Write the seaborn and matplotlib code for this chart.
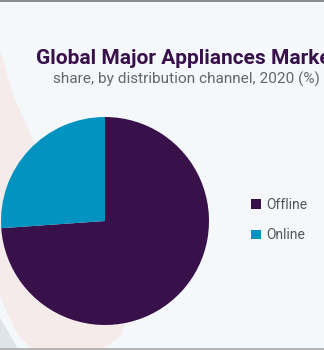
import matplotlib
matplotlib.use("Agg")
import matplotlib.pyplot as plt
from matplotlib.patches import Polygon, Rectangle
import seaborn as sns

# Distribution channel shares, 2020 (%)
channels = ["Offline", "Online"]
shares = [73.9, 26.1]
colors = ["#38104a", "#0393c0"]

title = "Global Major Appliances Market"
subtitle = "share, by distribution channel, 2020 (%)"

sns.set_theme(style="white")
plt.rcParams["font.family"] = ["Roboto", "DejaVu Sans"]

W, H = 324, 350
fig = plt.figure(figsize=(W / 100, H / 100), dpi=100)
fig.patch.set_facecolor("#f4f8fb")


def px(x, y):
    """Pixel position (origin top-left) to figure fraction."""
    return (x / W, 1 - y / H)


# Decorative background shapes
pink = [(0, 50), (15, 100), (35, 143), (60, 200), (90, 258), (118, 298),
        (126, 318), (122, 334), (108, 346), (95, 352), (35, 352), (18, 335),
        (7, 312), (0, 296)]
fig.patches.append(Polygon([px(*p) for p in pink], closed=True,
                           transform=fig.transFigure, facecolor="#f5ebea",
                           edgecolor="none", zorder=-5))
grey = [(0, 318), (6, 328), (11, 337), (16, 345), (19, 352), (0, 352)]
fig.patches.append(Polygon([px(*p) for p in grey], closed=True,
                           transform=fig.transFigure, facecolor="#dfe3ea",
                           edgecolor="none", zorder=-5))
# Thin frame lines at top and bottom
fig.patches.append(Rectangle(px(0, 1.5), 1, 1.5 / H, transform=fig.transFigure,
                             facecolor="#8c8c8c", edgecolor="none", zorder=-4))
fig.patches.append(Rectangle(px(0, 350), 1, 2 / H, transform=fig.transFigure,
                             facecolor="#b4b4b4", edgecolor="none", zorder=-4))

# Pie
cx, cy, r = 105, 221, 104
ax = fig.add_axes([(cx - r) / W, (H - cy - r) / H, 2 * r / W, 2 * r / H])
ax.set_facecolor("none")
palette = sns.color_palette(colors)
wedges, _ = ax.pie(shares, colors=palette, startangle=90, counterclock=False,
                   wedgeprops=dict(linewidth=0))
ax.set_xlim(-1, 1)
ax.set_ylim(-1, 1)
ax.set_aspect("equal")
ax.axis("off")

# Titles
fig.text(*px(36, 64), title, ha="left", va="baseline", fontsize=15,
         fontweight="bold", color="#38104a")
fig.text(*px(186, 84), subtitle, ha="center", va="baseline", fontsize=11.1,
         color="#666666")

# Legend
fig.legend(wedges, channels, loc="center left", bbox_to_anchor=px(244, 220),
           frameon=False, fontsize=10, labelcolor="#555555",
           handlelength=0.7, handleheight=0.7, handletextpad=0.4,
           labelspacing=1.2, borderpad=0)

fig.savefig("out.png", dpi=100, facecolor=fig.get_facecolor())
